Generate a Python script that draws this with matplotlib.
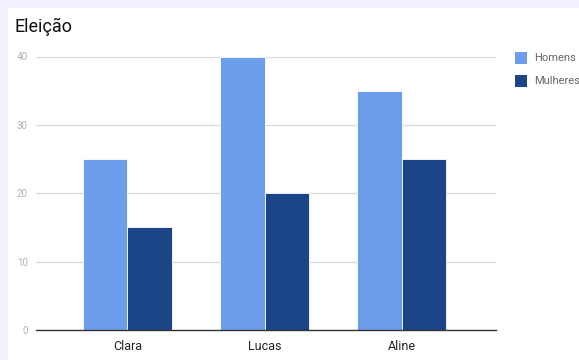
import matplotlib
matplotlib.use("Agg")
import matplotlib.pyplot as plt
from matplotlib.patches import Rectangle
import numpy as np

plt.rcParams['font.family'] = ['Roboto', 'DejaVu Sans']

title = "Eleição"
categories = ["Clara", "Lucas", "Aline"]
series_names = ["Homens", "Mulheres"]
homens = [25, 40, 35]
mulheres = [15, 20, 25]
yticks = [0, 10, 20, 30, 40]

c_h = "#6d9eeb"
c_m = "#1c4587"

W, H = 579, 360
fig = plt.figure(figsize=(W/100, H/100), dpi=100, facecolor="#f1f1fd")
# white card
fig.patches.append(Rectangle((8/W, 0), 1 - 8/W, 1 - 8/H, transform=fig.transFigure,
                             facecolor="white", edgecolor="none", zorder=-10))

ax = fig.add_axes([36/W, 30/H, (496-36)/W, (330-56.5)/H])
ax.set_facecolor("none")
x = np.arange(len(categories))
bw = 0.322
ax.bar(x - bw/2, homens, width=bw, color=c_h, edgecolor="white", linewidth=0.6, zorder=3)
ax.bar(x + bw/2, mulheres, width=bw, color=c_m, edgecolor="white", linewidth=0.6, zorder=3)

ax.set_xlim(1 - 228.5/137, 1 + 231.5/137)
ax.set_ylim(0, 40)
ax.set_yticks(yticks)
ax.set_yticklabels([str(v) for v in yticks], fontsize=7, color="#b0b0b0")
ax.set_xticks(x)
ax.set_xticklabels(categories, fontsize=9, color="#222222")
ax.tick_params(axis="both", length=0)
ax.tick_params(axis="y", pad=6)
ax.tick_params(axis="x", pad=7)
for s in ["top", "right", "left"]:
    ax.spines[s].set_visible(False)
ax.spines["bottom"].set_color("#333333")
ax.spines["bottom"].set_linewidth(1.0)
ax.spines["bottom"].set_zorder(4)
ax.grid(axis="y", color="#d9d9d9", linewidth=0.9, zorder=0)
ax.set_axisbelow(True)

fig.text(14/W, 1 - 27/H, title, fontsize=13, color="#111111", va="center", ha="left")

# legend
for i, (name, col) in enumerate(zip(series_names, [c_h, c_m])):
    yc = 58 + i*23
    fig.patches.append(Rectangle((515/W, 1 - (yc+6)/H), 12/W, 12/H, transform=fig.transFigure,
                                 facecolor=col, edgecolor="none", zorder=5))
    fig.text(534/W, 1 - yc/H, name, fontsize=8, color="#666666", va="center", ha="left")

fig.savefig("out.png", dpi=100, facecolor=fig.get_facecolor())
